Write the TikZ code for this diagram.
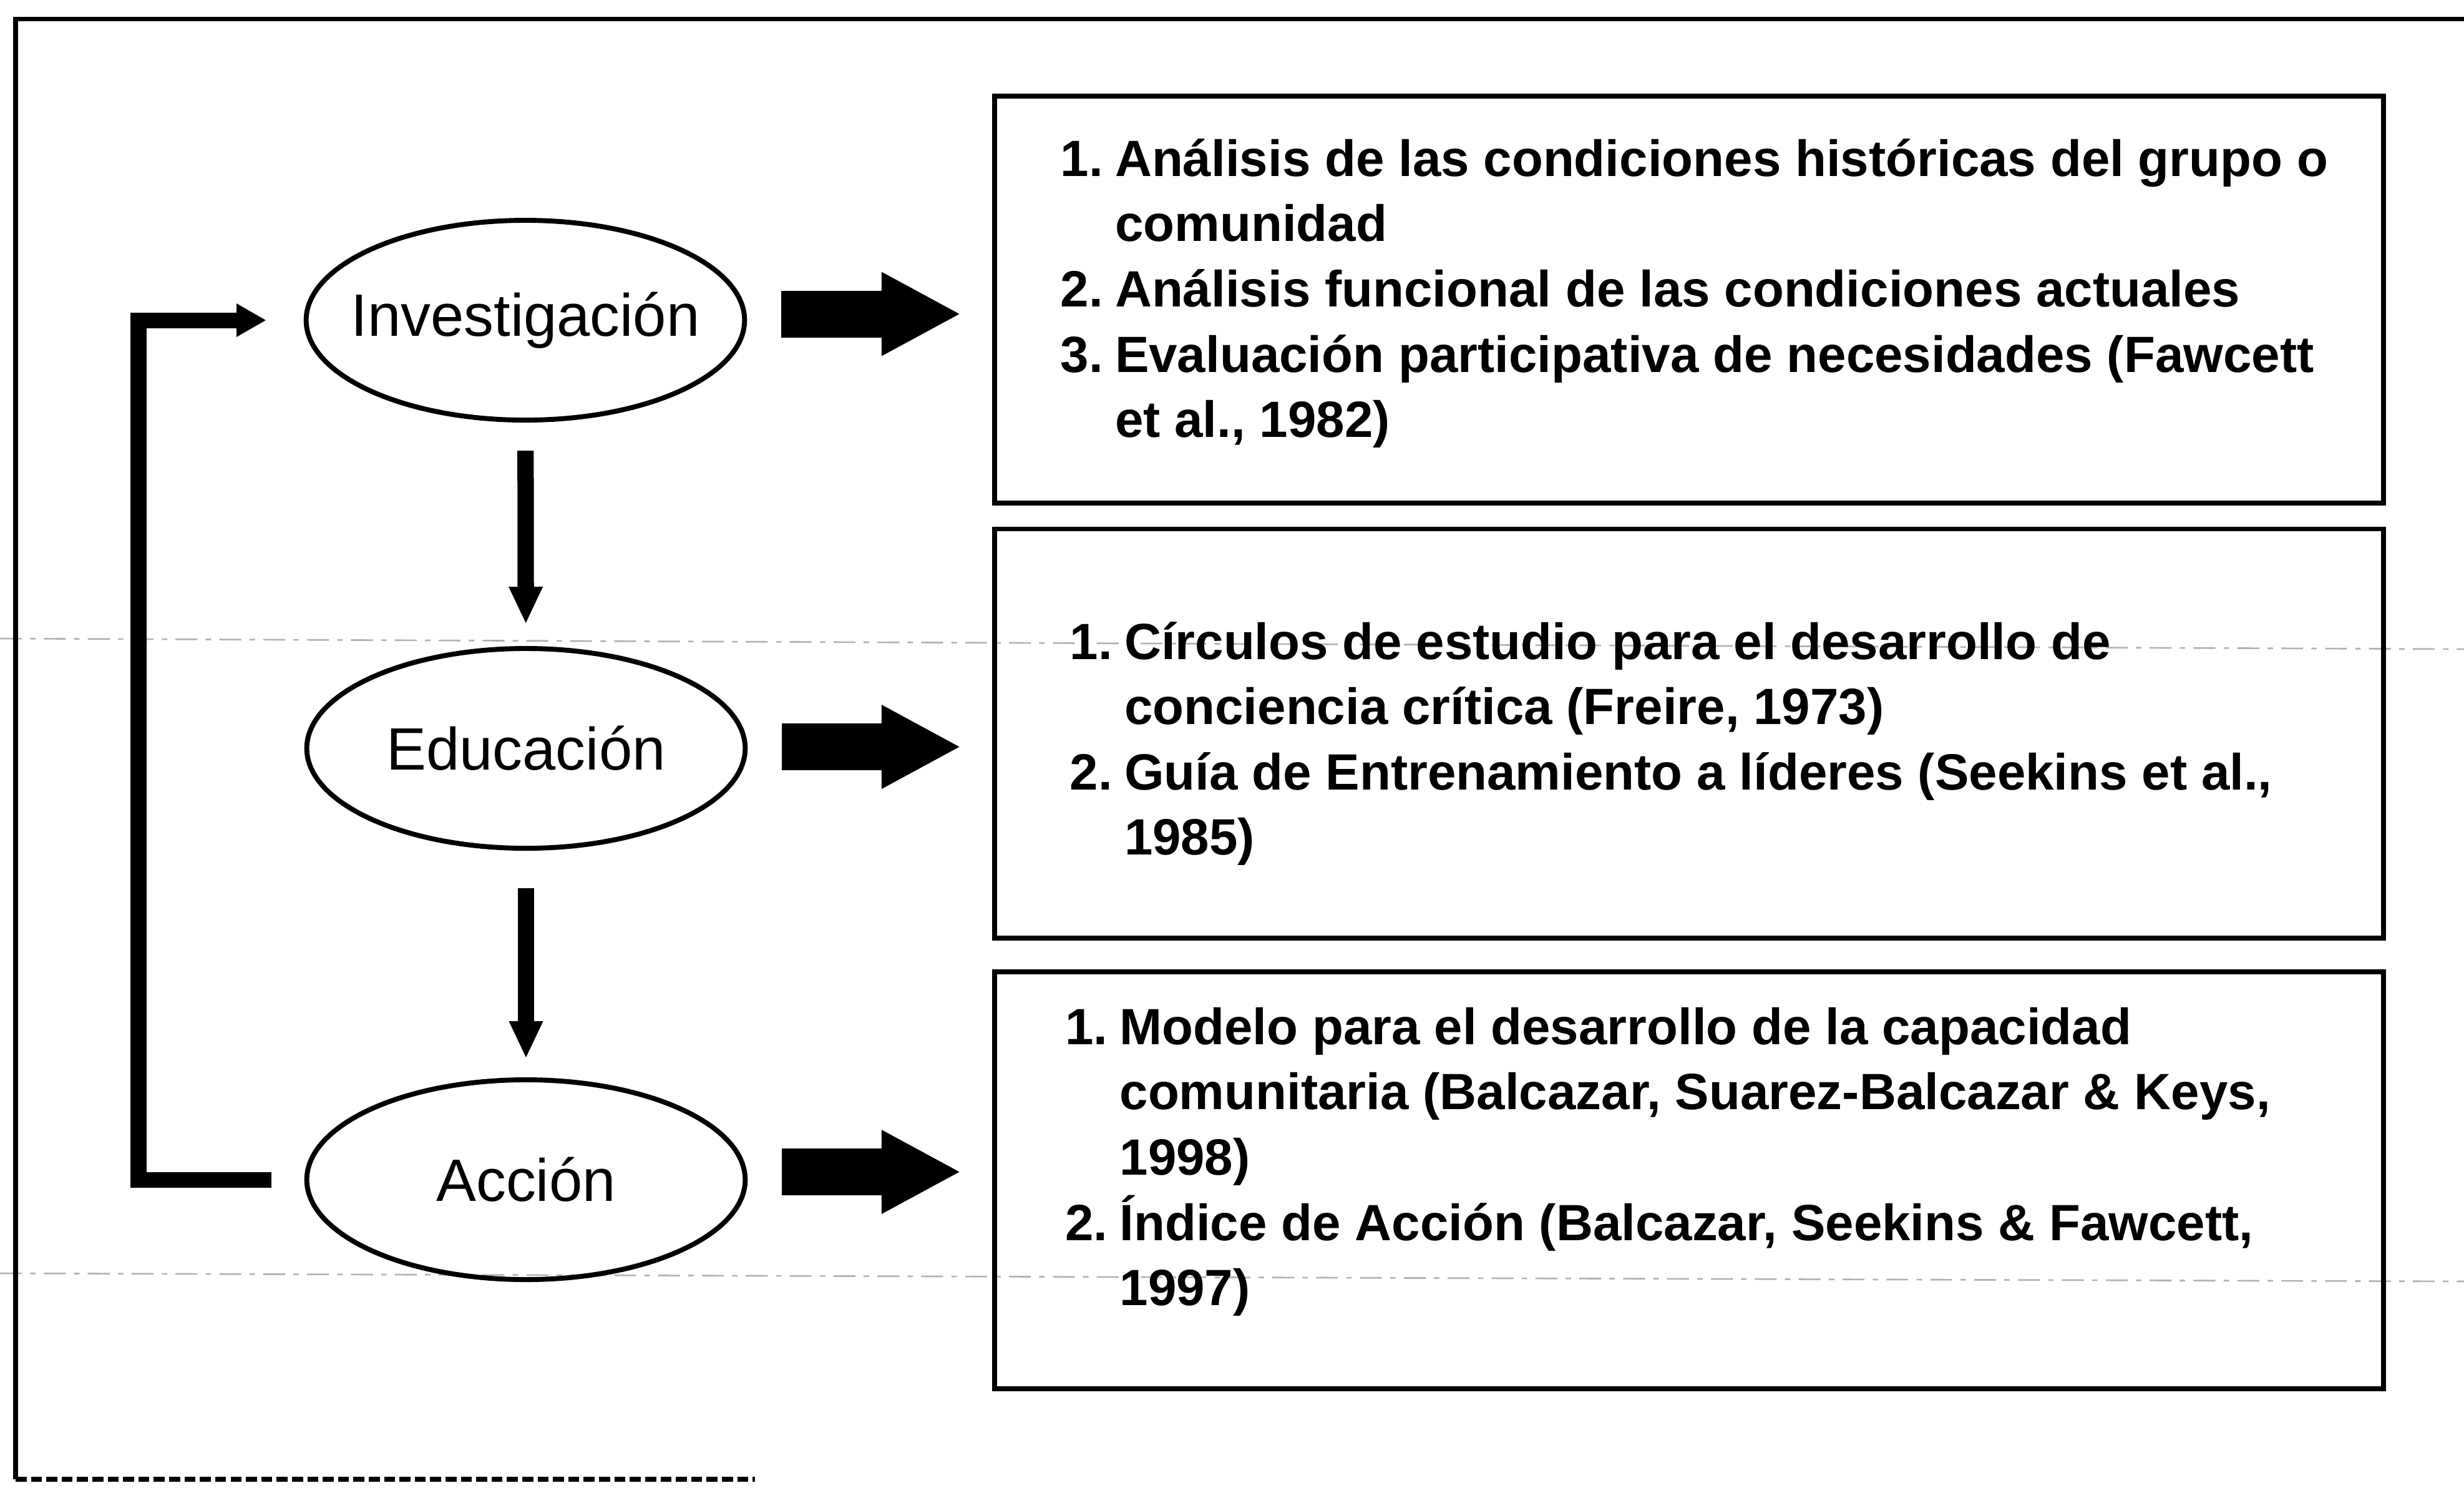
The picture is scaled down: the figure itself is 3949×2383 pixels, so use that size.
\documentclass[tikz,border=0pt]{standalone}
\usepackage{fontspec}
\setmainfont{Liberation Sans}
\usetikzlibrary{positioning,arrows.meta,shapes.geometric}
\newcommand{\nr}[1]{\makebox[3.5mm][l]{#1}}

\begin{document}
\begin{tikzpicture}[x=0.04mm, y=-0.04mm,
    etapa/.style={draw, ellipse, line width=0.9pt, minimum width=28.1mm, minimum height=12.8mm,
      inner sep=0pt, font=\fontsize{10.9}{13}\selectfont},
    caja/.style={draw, line width=0.9pt, minimum width=89mm, inner sep=0pt},
    lista/.style={anchor=base west, inner sep=0pt, font=\fontsize{9.3}{11.9}\selectfont\bfseries},
    bloque/.style={line width=3mm, -{Triangle[length=5.1mm, width=5mm]}, shorten <=2.2mm, shorten >=2mm},
    baja/.style={line width=1.05mm, -{Triangle[length=2.4mm, width=2mm]}},
    retorno/.style={line width=1mm, line join=miter, -{Triangle[length=1.9mm, width=2mm]},
      shorten <=2.1mm, shorten >=2.4mm},
    ruido/.style={gray!60, line width=0.3pt, dash pattern=on 4pt off 1.5pt on 1pt off 1.5pt}]
  \useasboundingbox (0,0) rectangle (3949,2383);
  \draw[ruido] (0,1023) -- (3949,1040);
  \draw[ruido] (0,2040) -- (3949,2053);
  \draw[line width=0.8pt] (3949,30) -- (25,30) -- (25,2370);
  \draw[line width=0.9pt, dash pattern=on 2pt off 0.8pt] (25,2370) -- (1210,2370);

  \node[etapa] (inv) at (842,513)  {\makebox[0pt]{Investigación}};
  \node[etapa] (edu) at (843,1199) {\makebox[0pt]{Educación}};
  \node[etapa] (acc) at (843,1890) {\makebox[0pt]{Acción}};

  \node[caja, minimum height=26.1mm] (caja1) at (2707,480)  {};
  \node[caja, minimum height=26.2mm] (caja2) at (2707,1175) {};
  \node[caja, minimum height=26.7mm] (caja3) at (2707,1891) {};

  \node[lista] (lista1) at ([xshift=4.3mm, yshift=-5.3mm]caja1.north west) {\begin{tabular}[t]{@{}l@{}}
    \nr{1.}Análisis de las condiciones históricas del grupo o\\
    \nr{}comunidad\\
    \nr{2.}Análisis funcional de las condiciones actuales\\
    \nr{3.}Evaluación participativa de necesidades (Fawcett\\
    \nr{}et al., 1982)
  \end{tabular}};
  \node[lista] (lista2) at ([xshift=4.9mm, yshift=-8.5mm]caja2.north west) {\begin{tabular}[t]{@{}l@{}}
    \nr{1.}Círculos de estudio para el desarrollo de\\
    \nr{}conciencia crítica (Freire, 1973)\\
    \nr{2.}Guía de Entrenamiento a líderes (Seekins et al.,\\
    \nr{}1985)
  \end{tabular}};
  \node[lista] (lista3) at ([xshift=4.6mm, yshift=-4.8mm]caja3.north west) {\begin{tabular}[t]{@{}l@{}}
    \nr{1.}Modelo para el desarrollo de la capacidad\\
    \nr{}comunitaria (Balcazar, Suarez-Balcazar \& Keys,\\
    \nr{}1998)\\
    \nr{2.}Índice de Acción (Balcazar, Seekins \& Fawcett,\\
    \nr{}1997)
  \end{tabular}};

  \draw[bloque] ([yshift=0.4mm]inv.east) -- ([yshift=0.4mm]inv.east -| caja1.west);
  \draw[bloque] ([yshift=0.1mm]edu.east) -- ([yshift=0.1mm]edu.east -| caja2.west);
  \draw[bloque] ([yshift=0.5mm]acc.east) -- ([yshift=0.5mm]acc.east -| caja3.west);

  \draw[baja, shorten <=1.8mm, shorten >=1.4mm] (inv) -- (edu);
  \draw[baja, shorten <=2.4mm, shorten >=1.2mm] (edu) -- (acc);

  \coordinate (giro) at (222,1200);
  \draw[retorno] (acc.west) -- (acc.west -| giro) -- (giro |- inv.west) -- (inv.west);
\end{tikzpicture}
\end{document}
